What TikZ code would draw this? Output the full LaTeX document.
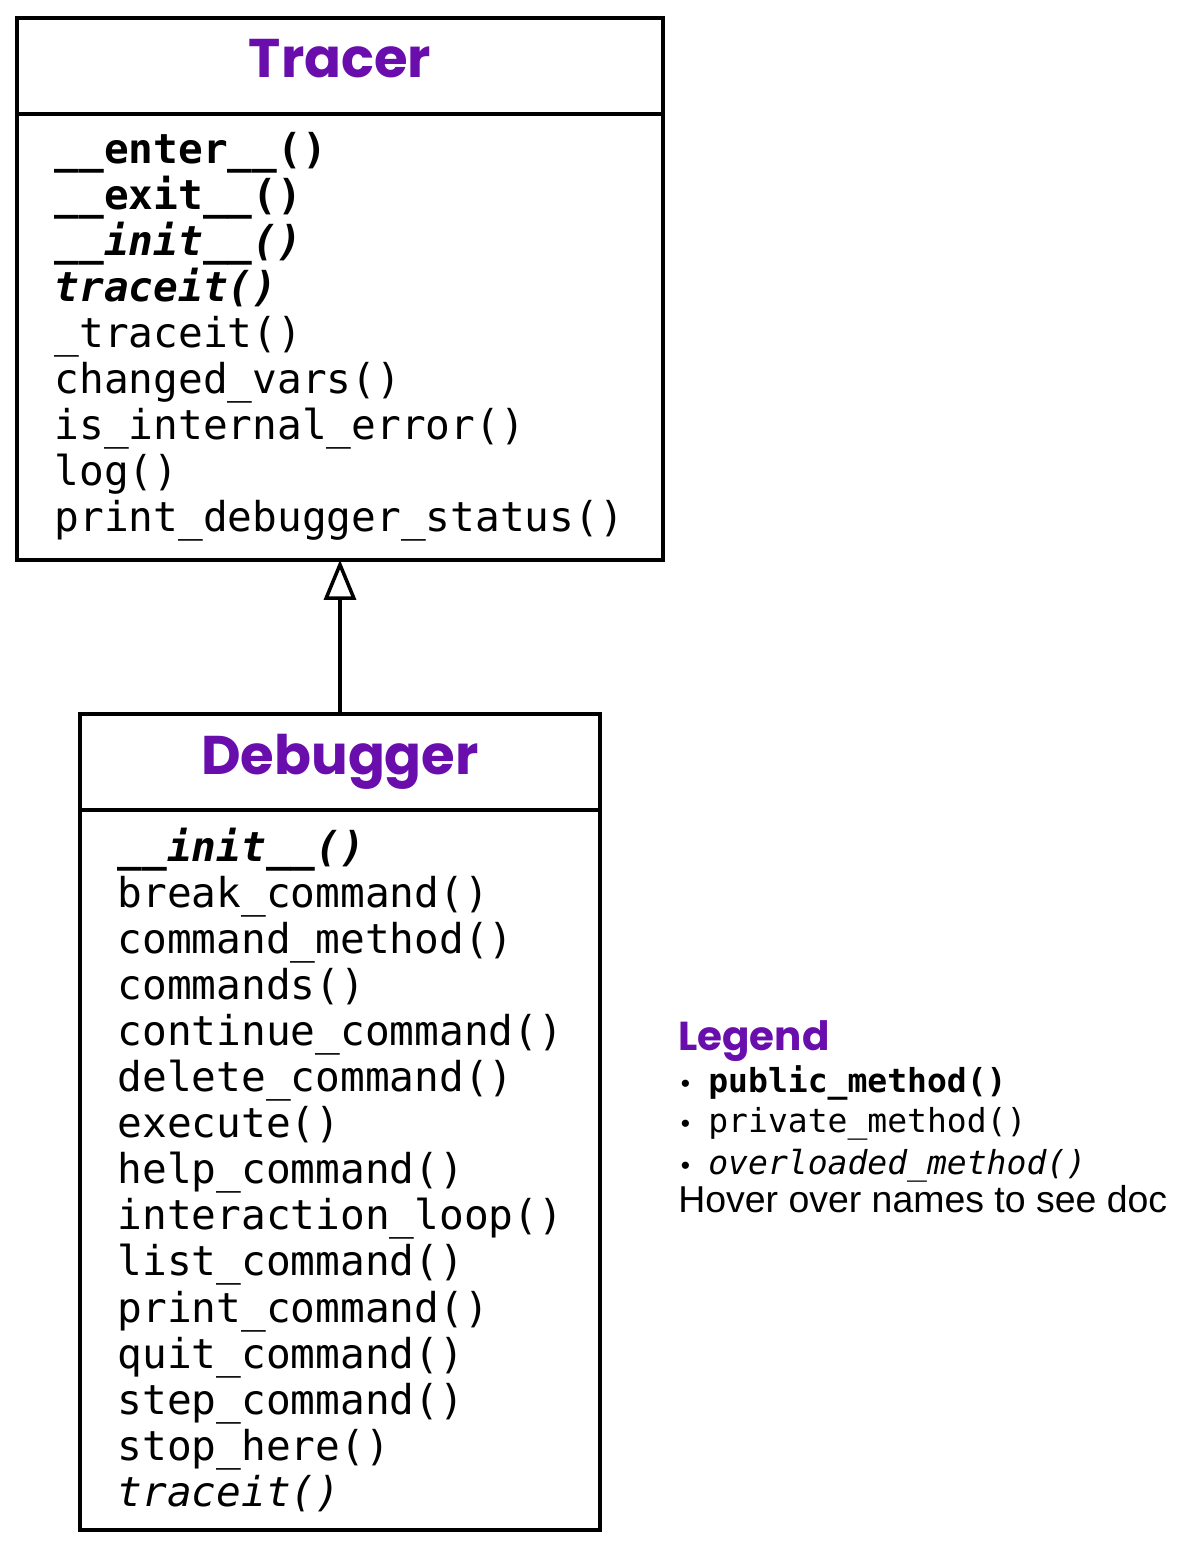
\documentclass[tikz,border=0pt]{standalone}
\usepackage{fontspec}
\setmainfont{Liberation Sans}
\setmonofont{DejaVu Sans Mono}
\newfontfamily\titlefont{Poppins}
\usetikzlibrary{arrows.meta,positioning}

\definecolor{umlpurple}{HTML}{6A0DAD}
\newcommand{\pubm}[1]{{\bfseries #1}}
\newcommand{\ovlm}[1]{{\bfseries\itshape #1}}
\newcommand{\legmono}{\ttfamily\fontsize{18.8}{22}\selectfont}
\newcommand{\legbullet}{\makebox[0.6cm][l]{\hspace{0.05cm}\fontsize{15}{15}\selectfont•}}

\tikzset{
  classhead/.style={draw, line width=2pt, outer sep=0pt, inner sep=0pt,
    minimum height=1.92cm, text height=0.84cm, text depth=0.36cm,
    font=\titlefont\bfseries\fontsize{31}{36}\selectfont, text=umlpurple},
  classbody/.style={draw, line width=2pt, outer sep=0pt, inner xsep=0.75cm,
    inner ysep=0pt, align=left, font=\ttfamily\fontsize{23.4}{26.2}\selectfont},
  inherits/.style={line width=2pt,
    -{Triangle[open, length=0.8cm, width=0.64cm]}},
  legendtitle/.style={anchor=base west, inner sep=0pt,
    font=\titlefont\bfseries\fontsize{23}{28}\selectfont, text=umlpurple},
  legenditem/.style={anchor=base west, inner sep=0pt,
    font=\fontsize{21.3}{24}\selectfont}
}

\begin{document}
\begin{tikzpicture}[x=0.02cm, y=-0.02cm]
  \useasboundingbox (0,0) rectangle (1187,1550);

  % Tracer
  \node[classhead, minimum width=12.92cm] (tracer) at (340,66) {Tracer};
  \node[classbody, below=0pt of tracer, text width=11.42cm, minimum height=8.92cm] (tracer body) {%
    \pubm{\_\_enter\_\_()}\\
    \pubm{\_\_exit\_\_()}\\
    \ovlm{\_\_init\_\_()}\\
    \ovlm{traceit()}\\
    \_traceit()\\
    changed\_vars()\\
    is\_internal\_error()\\
    log()\\
    print\_debugger\_status()};

  % Debugger
  \node[classhead, minimum width=10.4cm] (debugger) at (340,762) {Debugger};
  \node[classbody, below=0pt of debugger, text width=8.9cm, minimum height=14.4cm] (debugger body) {%
    \ovlm{\_\_init\_\_()}\\
    break\_command()\\
    command\_method()\\
    commands()\\
    continue\_command()\\
    delete\_command()\\
    execute()\\
    help\_command()\\
    interaction\_loop()\\
    list\_command()\\
    print\_command()\\
    quit\_command()\\
    step\_command()\\
    stop\_here()\\
    {\itshape traceit()}};

  \draw[inherits] (debugger.north) -- (tracer body.south);

  % Legend
  \node[legendtitle] (legend) at (678,1050) {Legend};
  \node[legenditem] (legend pub) at (678,1092) {\legbullet{\legmono\bfseries public\_method()}};
  \node[legenditem] (legend priv) at (678,1132) {\legbullet{\legmono private\_method()}};
  \node[legenditem] (legend ovl) at (678,1174) {\legbullet{\legmono\itshape overloaded\_method()}};
  \node[legenditem] (legend hover) at (678,1212) {Hover over names to see doc};
\end{tikzpicture}
\end{document}
